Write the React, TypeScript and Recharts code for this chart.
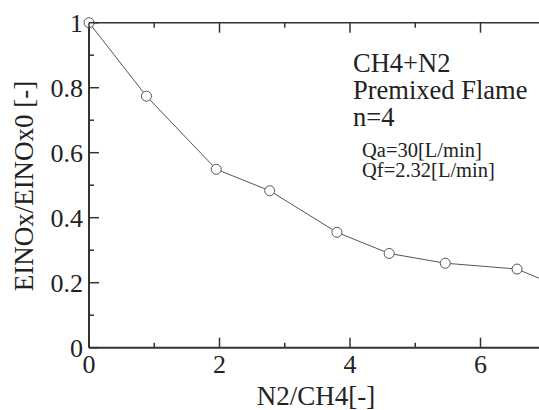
import React from 'react';
import { LineChart, Line, XAxis, YAxis } from 'recharts';

// N2/CH4 molar ratio vs normalised EINOx
const ratio = [0, 0.88, 1.95, 2.77, 3.8, 4.6, 5.46, 6.56, 7];
const einox = [1.0, 0.774, 0.549, 0.483, 0.355, 0.29, 0.26, 0.242, 0.205];

const xTicks = [0, 1, 2, 3, 4, 5, 6, 7];
const yTicks = [0, 0.1, 0.2, 0.3, 0.4, 0.5, 0.6, 0.7, 0.8, 0.9, 1];

const SERIF = '"Liberation Serif", "Times New Roman", serif';
const INK = '#222';
const AXIS = '#333';
const LINE = '#555';

const data = ratio.map((r, i) => ({ r, v: einox[i] }));

const isMajorX = (v: number) => v % 2 === 0;
const isMajorY = (v: number) => Math.round(v * 10) % 2 === 0;
const fmtY = (v: number) => (v === 0 ? '0' : v === 1 ? '1' : v.toFixed(1));

const BottomTick = ({ x, y, payload }: any) => {
  const v = payload.value;
  const major = isMajorX(v);
  return (
    <g>
      <line x1={x} y1={y} x2={x} y2={y - (major ? 10 : 5)} stroke={AXIS} strokeWidth={1.5} />
      {major && (
        <text x={x} y={y + 25} textAnchor="middle" fontSize={26} fontFamily={SERIF} fill={INK}>
          {v}
        </text>
      )}
    </g>
  );
};

const TopTick = ({ x, y, payload }: any) => {
  const major = isMajorX(payload.value);
  return <line x1={x} y1={y} x2={x} y2={y + (major ? 10 : 5)} stroke={AXIS} strokeWidth={1.5} />;
};

const LeftTick = ({ x, y, payload }: any) => {
  const v = payload.value;
  const major = isMajorY(v);
  return (
    <g>
      <line x1={x} y1={y} x2={x + (major ? 10 : 5)} y2={y} stroke={AXIS} strokeWidth={1.5} />
      {major && (
        <text x={x - 6} y={y} dy="0.34em" textAnchor="end" fontSize={26} fontFamily={SERIF} fill={INK}>
          {fmtY(v)}
        </text>
      )}
    </g>
  );
};

const RightTick = ({ x, y, payload }: any) => {
  const major = isMajorY(payload.value);
  return <line x1={x} y1={y} x2={x - (major ? 10 : 5)} y2={y} stroke={AXIS} strokeWidth={1.5} />;
};

export default function App() {
  return (
    <div style={{ position: 'absolute', left: 0, top: 0, width: 539, height: 410, overflow: 'hidden', background: '#fff' }}>
      <LineChart
        width={570}
        height={410}
        data={data}
        margin={{ top: 12.7, right: 14.25, bottom: 32.3, left: 49 }}
      >
        <XAxis
          dataKey="r"
          type="number"
          domain={[0, 7]}
          ticks={xTicks}
          interval={0}
          height={30}
          tickSize={0}
          tickMargin={0}
          tick={<BottomTick />}
          axisLine={{ stroke: AXIS, strokeWidth: 2 }}
        />
        <XAxis
          xAxisId="top"
          orientation="top"
          dataKey="r"
          type="number"
          domain={[0, 7]}
          ticks={xTicks}
          interval={0}
          height={10}
          tickSize={0}
          tickMargin={0}
          tick={<TopTick />}
          axisLine={{ stroke: AXIS, strokeWidth: 1.5 }}
        />
        <YAxis
          type="number"
          domain={[0, 1]}
          ticks={yTicks}
          interval={0}
          width={40}
          tickSize={0}
          tickMargin={0}
          tick={<LeftTick />}
          axisLine={{ stroke: AXIS, strokeWidth: 2 }}
        />
        <YAxis
          yAxisId="right"
          orientation="right"
          type="number"
          domain={[0, 1]}
          ticks={yTicks}
          interval={0}
          width={10}
          tickSize={0}
          tickMargin={0}
          tick={<RightTick />}
          axisLine={{ stroke: AXIS, strokeWidth: 1.5 }}
        />
        <Line
          dataKey="v"
          stroke={LINE}
          strokeWidth={1}
          dot={{ r: 5, fill: '#fff', stroke: LINE, strokeWidth: 1 }}
          isAnimationActive={false}
        />
        <text x={316} y={405} textAnchor="middle" fontSize={27} fontFamily={SERIF} fill={INK}>
          N2/CH4[-]
        </text>
        <text
          x={33}
          y={186}
          textAnchor="middle"
          fontSize={27}
          fontFamily={SERIF}
          fill={INK}
          transform="rotate(-90, 33, 186)"
        >
          EINOx/EINOx0 [-]
        </text>
        <g fontFamily={SERIF} fill={INK}>
          <text x={353} y={72} fontSize={26.5}>CH4+N2</text>
          <text x={353} y={99} fontSize={26.5}>Premixed Flame</text>
          <text x={353} y={125.5} fontSize={26.5}>n=4</text>
          <text x={362} y={157} fontSize={20.5}>Qa=30[L/min]</text>
          <text x={362} y={177} fontSize={20.5}>Qf=2.32[L/min]</text>
        </g>
      </LineChart>
    </div>
  );
}
